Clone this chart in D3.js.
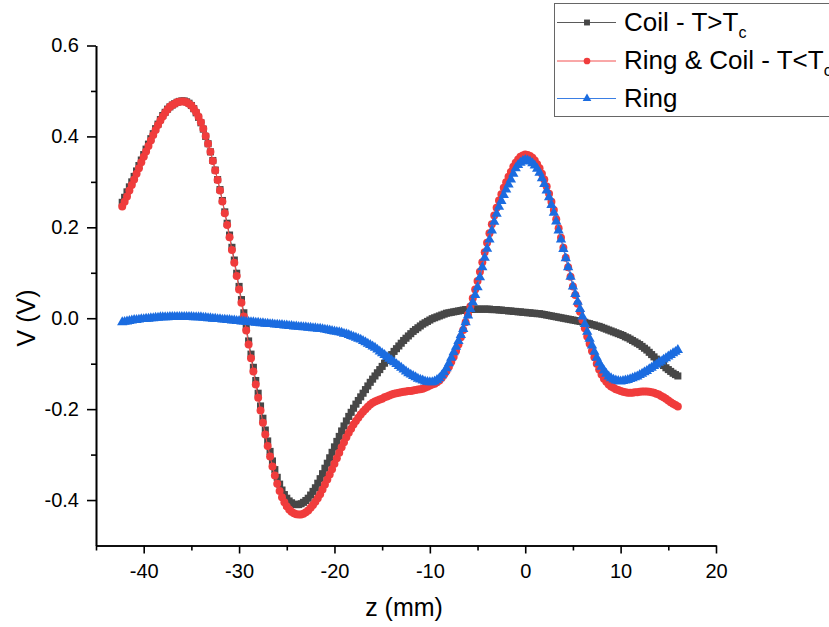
<!DOCTYPE html>
<html>
<head>
<meta charset="utf-8">
<script src="https://cdn.jsdelivr.net/npm/d3@7"></script>
<style>
  body { margin: 0; background: #fff; }
  svg text { font-family: Arial, "Liberation Sans", sans-serif; }
</style>
</head>
<body>
<svg id="chart" width="829" height="627"></svg>
<script>
// z positions (mm), 0.25 mm apart
var zVals = [-42.25,-42,-41.75,-41.5,-41.25,-41,-40.75,-40.5,-40.25,-40,-39.75,-39.5,-39.25,-39,-38.75,-38.5,-38.25,-38,-37.75,-37.5,
  -37.25,-37,-36.75,-36.5,-36.25,-36,-35.75,-35.5,-35.25,-35,-34.75,-34.5,-34.25,-34,-33.75,-33.5,-33.25,-33,-32.75,-32.5,
  -32.25,-32,-31.75,-31.5,-31.25,-31,-30.75,-30.5,-30.25,-30,-29.75,-29.5,-29.25,-29,-28.75,-28.5,-28.25,-28,-27.75,-27.5,
  -27.25,-27,-26.75,-26.5,-26.25,-26,-25.75,-25.5,-25.25,-25,-24.75,-24.5,-24.25,-24,-23.75,-23.5,-23.25,-23,-22.75,-22.5,
  -22.25,-22,-21.75,-21.5,-21.25,-21,-20.75,-20.5,-20.25,-20,-19.75,-19.5,-19.25,-19,-18.75,-18.5,-18.25,-18,-17.75,-17.5,
  -17.25,-17,-16.75,-16.5,-16.25,-16,-15.75,-15.5,-15.25,-15,-14.75,-14.5,-14.25,-14,-13.75,-13.5,-13.25,-13,-12.75,-12.5,
  -12.25,-12,-11.75,-11.5,-11.25,-11,-10.75,-10.5,-10.25,-10,-9.75,-9.5,-9.25,-9,-8.75,-8.5,-8.25,-8,-7.75,-7.5,
  -7.25,-7,-6.75,-6.5,-6.25,-6,-5.75,-5.5,-5.25,-5,-4.75,-4.5,-4.25,-4,-3.75,-3.5,-3.25,-3,-2.75,-2.5,
  -2.25,-2,-1.75,-1.5,-1.25,-1,-0.75,-0.5,-0.25,0,0.25,0.5,0.75,1,1.25,1.5,1.75,2,2.25,2.5,
  2.75,3,3.25,3.5,3.75,4,4.25,4.5,4.75,5,5.25,5.5,5.75,6,6.25,6.5,6.75,7,7.25,7.5,
  7.75,8,8.25,8.5,8.75,9,9.25,9.5,9.75,10,10.25,10.5,10.75,11,11.25,11.5,11.75,12,12.25,12.5,
  12.75,13,13.25,13.5,13.75,14,14.25,14.5,14.75,15,15.25,15.5,15.75,16];

// Coil - T>Tc
var coil = [0.255,0.266,0.278,0.289,0.300,0.312,0.324,0.336,0.348,0.360,0.372,0.383,0.395,0.406,0.417,0.427,0.437,0.446,0.453,0.460,
  0.465,0.469,0.472,0.475,0.477,0.478,0.478,0.476,0.473,0.468,0.461,0.452,0.442,0.430,0.416,0.400,0.384,0.366,0.347,0.326,
  0.305,0.283,0.259,0.234,0.209,0.183,0.156,0.128,0.099,0.070,0.041,0.012,-0.019,-0.050,-0.079,-0.108,-0.137,-0.165,-0.193,-0.220,
  -0.246,-0.270,-0.293,-0.314,-0.333,-0.350,-0.365,-0.378,-0.388,-0.396,-0.402,-0.406,-0.409,-0.410,-0.410,-0.408,-0.405,-0.401,-0.396,-0.389,
  -0.381,-0.373,-0.363,-0.353,-0.342,-0.330,-0.319,-0.307,-0.295,-0.283,-0.271,-0.260,-0.248,-0.237,-0.226,-0.216,-0.207,-0.198,-0.189,-0.181,
  -0.173,-0.165,-0.157,-0.149,-0.141,-0.134,-0.127,-0.120,-0.113,-0.106,-0.099,-0.093,-0.086,-0.080,-0.073,-0.067,-0.061,-0.055,-0.049,-0.044,
  -0.039,-0.034,-0.029,-0.025,-0.021,-0.017,-0.013,-0.010,-0.007,-0.004,-0.001,0.001,0.003,0.005,0.007,0.009,0.011,0.012,0.013,0.014,
  0.015,0.016,0.017,0.018,0.019,0.019,0.020,0.020,0.020,0.020,0.020,0.020,0.020,0.020,0.020,0.019,0.019,0.019,0.018,0.018,
  0.017,0.017,0.016,0.016,0.015,0.015,0.014,0.014,0.013,0.013,0.012,0.012,0.011,0.011,0.010,0.010,0.009,0.008,0.007,0.006,
  0.005,0.004,0.003,0.002,0.001,0.000,-0.001,-0.002,-0.003,-0.004,-0.005,-0.006,-0.007,-0.008,-0.009,-0.011,-0.012,-0.014,-0.015,-0.017,
  -0.018,-0.020,-0.022,-0.024,-0.026,-0.028,-0.030,-0.032,-0.034,-0.036,-0.038,-0.041,-0.043,-0.046,-0.049,-0.052,-0.055,-0.058,-0.062,-0.066,
  -0.070,-0.075,-0.080,-0.085,-0.090,-0.095,-0.100,-0.104,-0.109,-0.113,-0.117,-0.121,-0.124,-0.127];

// Ring & Coil - T<Tc
var ringCoil = [0.246,0.256,0.268,0.281,0.293,0.305,0.318,0.330,0.343,0.355,0.367,0.379,0.391,0.403,0.414,0.425,0.435,0.444,0.452,0.459,
  0.465,0.469,0.472,0.475,0.476,0.477,0.477,0.475,0.472,0.468,0.461,0.453,0.443,0.431,0.417,0.401,0.384,0.366,0.346,0.325,
  0.304,0.281,0.257,0.231,0.205,0.178,0.150,0.122,0.093,0.063,0.034,0.004,-0.027,-0.058,-0.088,-0.117,-0.146,-0.175,-0.203,-0.230,
  -0.256,-0.281,-0.304,-0.326,-0.346,-0.364,-0.380,-0.394,-0.405,-0.414,-0.421,-0.426,-0.429,-0.431,-0.432,-0.432,-0.430,-0.427,-0.423,-0.417,
  -0.411,-0.404,-0.396,-0.387,-0.377,-0.366,-0.355,-0.344,-0.332,-0.320,-0.308,-0.296,-0.284,-0.273,-0.262,-0.252,-0.243,-0.234,-0.226,-0.219,
  -0.212,-0.206,-0.200,-0.195,-0.190,-0.186,-0.183,-0.181,-0.179,-0.177,-0.174,-0.172,-0.170,-0.168,-0.166,-0.165,-0.164,-0.163,-0.162,-0.161,
  -0.160,-0.160,-0.159,-0.158,-0.157,-0.156,-0.155,-0.153,-0.151,-0.148,-0.146,-0.144,-0.141,-0.137,-0.131,-0.124,-0.116,-0.107,-0.096,-0.085,
  -0.072,-0.058,-0.042,-0.026,-0.009,0.008,0.026,0.044,0.063,0.082,0.102,0.123,0.145,0.166,0.187,0.207,0.226,0.243,0.259,0.273,
  0.287,0.299,0.311,0.322,0.333,0.342,0.349,0.355,0.358,0.360,0.359,0.357,0.353,0.347,0.339,0.330,0.318,0.305,0.290,0.274,
  0.256,0.238,0.218,0.198,0.177,0.155,0.133,0.112,0.091,0.070,0.051,0.032,0.014,-0.004,-0.022,-0.040,-0.056,-0.072,-0.086,-0.100,
  -0.113,-0.124,-0.133,-0.140,-0.146,-0.150,-0.153,-0.156,-0.158,-0.160,-0.162,-0.163,-0.164,-0.164,-0.164,-0.163,-0.163,-0.162,-0.161,-0.161,
  -0.161,-0.162,-0.163,-0.164,-0.166,-0.168,-0.171,-0.174,-0.177,-0.181,-0.185,-0.188,-0.191,-0.194];

// Ring
var ring = [-0.009,-0.008,-0.007,-0.006,-0.005,-0.004,-0.004,-0.003,-0.002,-0.002,-0.001,-0.001,0.000,0.000,0.001,0.001,0.002,0.002,0.002,0.002,
  0.003,0.003,0.003,0.003,0.003,0.003,0.003,0.003,0.003,0.003,0.002,0.002,0.002,0.002,0.001,0.001,0.000,0.000,-0.001,-0.001,
  -0.002,-0.002,-0.003,-0.003,-0.004,-0.004,-0.005,-0.005,-0.006,-0.006,-0.007,-0.007,-0.008,-0.008,-0.009,-0.009,-0.010,-0.010,-0.011,-0.011,
  -0.012,-0.012,-0.013,-0.013,-0.014,-0.014,-0.015,-0.015,-0.016,-0.016,-0.017,-0.017,-0.018,-0.018,-0.019,-0.019,-0.020,-0.020,-0.021,-0.021,
  -0.022,-0.022,-0.023,-0.023,-0.024,-0.025,-0.026,-0.027,-0.028,-0.029,-0.030,-0.031,-0.032,-0.034,-0.035,-0.037,-0.039,-0.041,-0.043,-0.045,
  -0.047,-0.050,-0.053,-0.056,-0.059,-0.062,-0.065,-0.069,-0.073,-0.077,-0.081,-0.085,-0.089,-0.093,-0.097,-0.101,-0.105,-0.109,-0.113,-0.117,
  -0.121,-0.124,-0.127,-0.130,-0.133,-0.135,-0.137,-0.139,-0.140,-0.141,-0.141,-0.139,-0.136,-0.132,-0.126,-0.119,-0.110,-0.099,-0.087,-0.075,
  -0.063,-0.050,-0.037,-0.024,-0.009,0.006,0.020,0.035,0.051,0.068,0.090,0.112,0.133,0.153,0.173,0.193,0.212,0.230,0.245,0.258,
  0.271,0.283,0.294,0.305,0.318,0.330,0.337,0.342,0.346,0.348,0.347,0.345,0.341,0.336,0.329,0.320,0.308,0.295,0.281,0.266,
  0.249,0.232,0.213,0.193,0.173,0.152,0.132,0.112,0.091,0.070,0.053,0.036,0.020,0.004,-0.013,-0.030,-0.045,-0.060,-0.074,-0.087,
  -0.098,-0.107,-0.115,-0.122,-0.128,-0.132,-0.135,-0.137,-0.138,-0.139,-0.138,-0.137,-0.136,-0.134,-0.132,-0.130,-0.128,-0.125,-0.122,-0.119,
  -0.116,-0.112,-0.109,-0.105,-0.102,-0.098,-0.095,-0.091,-0.088,-0.084,-0.081,-0.077,-0.074,-0.070];

var xMajor = [-40,-30,-20,-10,0,10,20];
var xMinor = [-45,-35,-25,-15,-5,5,15];
var yMajor = [-0.4,-0.2,0.0,0.2,0.4,0.6];
var yMinor = [-0.3,-0.1,0.1,0.3,0.5];

var svg = d3.select("#chart");

var x = d3.scaleLinear().domain([-45, 20]).range([96, 716]);
var y = d3.scaleLinear().domain([-0.5, 0.6]).range([545.5, 45.5]);

// series, drawn in this order
var series = [
  {name: "Coil - T>T", sub: "c", values: coil, fill: "#474747", line: "#5a5a5a", shape: d3.symbolSquare, size: 50},
  {name: "Ring & Coil - T<T", sub: "c", values: ringCoil, fill: "#f03c3c", line: "#f35050", shape: d3.symbolCircle, size: 50},
  {name: "Ring", sub: "", values: ring, fill: "#1b6ce0", line: "#3a7ee4", shape: d3.symbolTriangle, size: 46}
];

var line = d3.line()
  .x(function(d) { return x(d[0]); })
  .y(function(d) { return y(d[1]); });

series.forEach(function(s) {
  var pts = zVals.map(function(z, i) { return [z, s.values[i]]; });
  svg.append("path")
    .datum(pts)
    .attr("d", line)
    .attr("fill", "none")
    .attr("stroke", s.line)
    .attr("stroke-width", 1);
  svg.append("g").selectAll("path")
    .data(pts)
    .enter().append("path")
    .attr("transform", function(d) { return "translate(" + x(d[0]) + "," + y(d[1]) + ")"; })
    .attr("d", d3.symbol().type(s.shape).size(s.size))
    .attr("fill", s.fill);
});

// axes
function styleAxis(g) {
  g.select(".domain").attr("stroke", "#000").attr("stroke-width", 1.6);
  g.selectAll(".tick line").attr("stroke", "#000").attr("stroke-width", 1.6);
  g.selectAll("text").attr("font-size", 20).attr("fill", "#000")
    .attr("font-family", "Arial, 'Liberation Sans', sans-serif");
}

svg.append("g")
  .attr("transform", "translate(0," + y(-0.5) + ")")
  .call(d3.axisBottom(x).tickValues(xMinor).tickSize(5).tickSizeOuter(0).tickFormat(""))
  .call(styleAxis);
svg.append("g")
  .attr("transform", "translate(0," + y(-0.5) + ")")
  .call(d3.axisBottom(x).tickValues(xMajor).tickSize(8).tickSizeOuter(0).tickPadding(10)
    .tickFormat(function(d) { return String(d); }))
  .call(styleAxis);

svg.append("g")
  .attr("transform", "translate(" + x(-45) + ",0)")
  .call(d3.axisLeft(y).tickValues(yMinor).tickSize(5).tickSizeOuter(0).tickFormat(""))
  .call(styleAxis);
svg.append("g")
  .attr("transform", "translate(" + x(-45) + ",0)")
  .call(d3.axisLeft(y).tickValues(yMajor).tickSize(9).tickSizeOuter(0).tickPadding(8)
    .tickFormat(function(d) { return d.toFixed(1); }))
  .call(styleAxis);

// axis titles
svg.append("text")
  .attr("x", 404).attr("y", 616)
  .attr("text-anchor", "middle")
  .attr("font-size", 25)
  .text("z (mm)");
svg.append("text")
  .attr("transform", "translate(35,318) rotate(-90)")
  .attr("text-anchor", "middle")
  .attr("font-size", 25)
  .text("V (V)");

// legend
var legend = svg.append("g");
legend.append("rect")
  .attr("x", 554.5).attr("y", 3.5)
  .attr("width", 300).attr("height", 113)
  .attr("fill", "#fff").attr("stroke", "#666").attr("stroke-width", 1);

var rowY = [22.5, 61, 98.5];
series.forEach(function(s, i) {
  var ry = rowY[i];
  legend.append("line")
    .attr("x1", 557).attr("x2", 616)
    .attr("y1", ry).attr("y2", ry)
    .attr("stroke", s.line).attr("stroke-width", 1);
  legend.append("path")
    .attr("transform", "translate(587," + ry + ")")
    .attr("d", d3.symbol().type(s.shape).size(s.size * 0.7))
    .attr("fill", s.fill);
  var t = legend.append("text")
    .attr("x", 624).attr("y", ry + 8)
    .attr("font-size", 26)
    .text(s.name);
  if (s.sub) {
    t.append("tspan").attr("dy", 7).attr("font-size", 16).text(s.sub);
  }
});
</script>
</body>
</html>
